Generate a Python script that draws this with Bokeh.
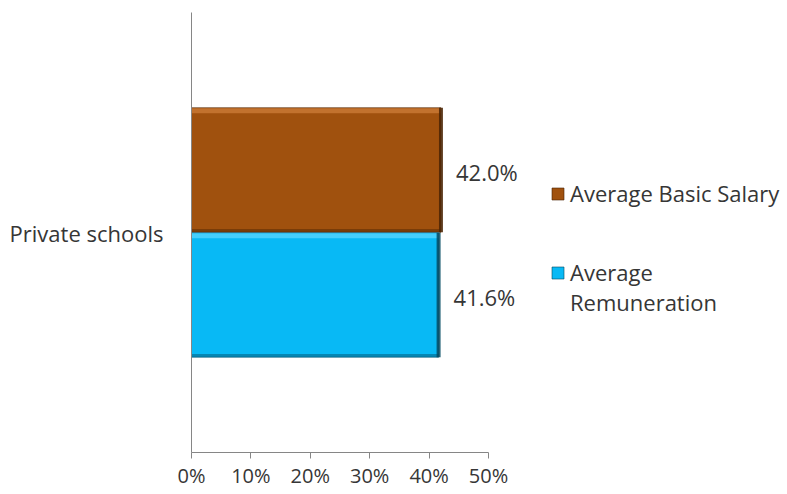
from bokeh.plotting import figure
from bokeh.models import FactorRange, Range1d, Legend, LegendItem, PrintfTickFormatter, FixedTicker, ColumnDataSource
from bokeh.transform import dodge
from bokeh.core.properties import value
from bokeh.embed import file_html
from bokeh.resources import INLINE

categories = ["Private schools"]
series_names = ["Average Basic Salary", "Average", "Remuneration"]
basic_salary = [42.0]
remuneration = [41.6]
x_ticks = [0, 10, 20, 30, 40, 50]

FONT = "Open Sans"
TXT = "#363636"
FS = "22px"
TFS = "20px"

# frame spans 191..787 px; axis 0..50 spans 191..488 px
p = figure(width=787, height=494, y_range=FactorRange(*categories), x_range=Range1d(0, 100.34),
           output_backend="svg", toolbar_location=None,
           min_border_left=191, min_border_right=0, min_border_top=12, min_border_bottom=42)
p.outline_line_color = None
p.xgrid.visible = False
p.ygrid.visible = False

src = ColumnDataSource(dict(cat=categories, basic=basic_salary, rem=remuneration,
                            zero=[0] * len(categories),
                            basic_lbl=["%.1f%%" % v for v in basic_salary],
                            rem_lbl=["%.1f%%" % v for v in remuneration]))

OFF, H = 0.142, 0.283
yb = lambda d: dodge("cat", d, range=p.y_range)

def bevel_bar(col, off, fill, light, dark):
    r = p.hbar(y=yb(off), left=0, right=col, height=H, source=src,
               fill_color=fill, line_color=dark, line_width=1, line_alpha=0.6)
    # bevel: lighter top band, darker bottom and right edges
    p.segment(x0="zero", x1=col, y0=yb(off + H / 2 - 0.007), y1=yb(off + H / 2 - 0.007),
              source=src, line_color=light, line_width=5, line_alpha=0.7)
    p.segment(x0="zero", x1=col, y0=yb(off - H / 2 + 0.004), y1=yb(off - H / 2 + 0.004),
              source=src, line_color=dark, line_width=3, line_alpha=0.45)
    p.segment(x0=col, x1=col, y0=yb(off - H / 2), y1=yb(off + H / 2),
              source=src, line_color=dark, line_width=4, line_alpha=0.85)
    return r

r1 = bevel_bar("basic", OFF, "#A0510E", "#D0803C", "#4A2303")
r2 = bevel_bar("rem", -OFF, "#08B9F5", "#5FD8FF", "#034A63")

p.text(x="basic", y=yb(OFF), text="basic_lbl", source=src,
       x_offset=15, y_offset=2, text_align="left", text_baseline="middle", text_font=value(FONT),
       text_font_size=FS, text_color=TXT)
p.text(x="rem", y=yb(-OFF), text="rem_lbl", source=src,
       x_offset=15, y_offset=2, text_align="left", text_baseline="middle", text_font=value(FONT),
       text_font_size=FS, text_color=TXT)

# invisible renderer for the legend's second text line
r_blank = p.scatter(x=[], y=[], fill_alpha=0, line_alpha=0)

xa = p.xaxis[0]
xa.bounds = (0, 50)
xa.ticker = FixedTicker(ticks=x_ticks)
xa.formatter = PrintfTickFormatter(format="%d%%")
xa.axis_line_color = "#868686"
xa.major_tick_line_color = "#868686"
xa.major_tick_in = 0
xa.major_tick_out = 6
xa.minor_tick_line_color = None
xa.major_label_text_font = FONT
xa.major_label_text_font_size = TFS
xa.major_label_text_color = TXT
xa.major_label_standoff = 3

ya = p.yaxis[0]
ya.axis_line_color = "#868686"
ya.major_tick_line_color = None
ya.minor_tick_line_color = None
ya.major_label_text_font = FONT
ya.major_label_text_font_size = FS
ya.major_label_text_color = TXT
ya.major_label_standoff = 22

common = dict(label_text_font=FONT, label_text_font_size=FS, label_text_color=TXT,
              glyph_width=15, glyph_height=15, spacing=0, label_standoff=5,
              background_fill_alpha=0, border_line_color=None, padding=0, margin=0)
leg_a = Legend(items=[LegendItem(label=series_names[0], renderers=[r1])], location=(359, 244), **common)
leg_b = Legend(items=[LegendItem(label=series_names[1], renderers=[r2]),
                      LegendItem(label=series_names[2], renderers=[r_blank])], location=(359, 135), **common)
p.add_layout(leg_a, "center")
p.add_layout(leg_b, "center")

open("out.html", "w").write(file_html(p, INLINE))
